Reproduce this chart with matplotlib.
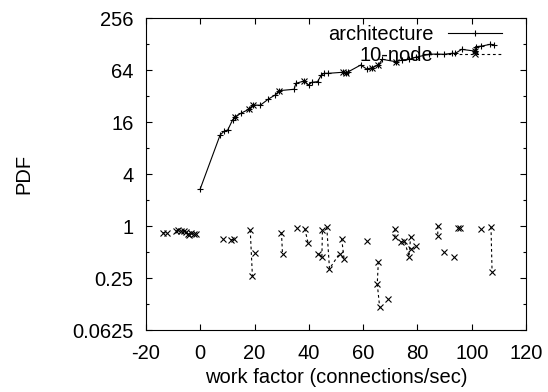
import numpy as np
import matplotlib
matplotlib.use("Agg")
import matplotlib.pyplot as plt
from matplotlib.ticker import FixedLocator, FixedFormatter

plt.rcParams['font.family'] = ['Liberation Sans', 'DejaVu Sans']
plt.rcParams['axes.unicode_minus'] = False

# ---- data ----
arch_x = [0.0, 7.3, 8.9, 10.1, 11.9, 12.9, 15.0, 17.8, 19.3, 22.1, 25.1, 27.6, 29.1,
          34.6, 35.2, 38.3, 39.9, 41.1, 43.2, 44.6, 45.6, 47.2, 52.4, 53.6, 54.6,
          59.1, 61.3, 63.2, 65.6, 67.1, 72.0, 74.4, 76.9, 79.3, 84.2, 87.3, 89.7,
          92.8, 94.0, 96.3, 101.1, 101.4, 103.6, 106.9, 108.1]
arch_y = [2.7, 11.3, 12.6, 12.9, 16.9, 18.4, 20.2, 22.4, 25.2, 25.0, 29.5, 32.9, 36.9,
          38.3, 44.9, 47.7, 42.9, 46.1, 46.9, 56.0, 58.6, 58.6, 60.2, 59.7, 61.2,
          73.1, 65.7, 68.0, 73.1, 85.1, 79.8, 83.6, 85.1, 89.8, 97.3, 98.0, 97.3,
          99.9, 99.9, 111.0, 106.0, 119.0, 121.0, 127.0, 125.0]

# 10-node: groups of consecutive points (NaN separates groups that are not joined)
node_x = [-13.8, -12.2, np.nan,
          -8.9, -8.1, -7.1, -6.1, -5.2, -4.6, -4.0, -3.4, -2.4, -1.5, np.nan,
          8.2, np.nan, 11.3, 12.5, np.nan,
          18.4, 19.2, np.nan, 20.3, np.nan,
          29.9, 30.3, np.nan,
          35.8, np.nan, 38.5, 39.7, np.nan,
          43.2, 44.8, 45.0, np.nan, 46.6, 47.6, 51.3, np.nan, 52.1, 53.0, np.nan,
          61.3, np.nan,
          65.6, 65.2, 66.1, np.nan, 69.3, np.nan,
          71.7, 71.7, np.nan, 73.8, 75.2, 76.9, 77.5, np.nan, 77.8, 79.4, np.nan,
          87.5, 87.5, np.nan, 89.7, np.nan, 93.4, np.nan, 95.0, 95.5, np.nan,
          103.5, np.nan, 107.1, 107.5, np.nan,
          12.9, np.nan, 17.8, np.nan, 19.3, np.nan, 29.1, np.nan, 38.3, np.nan,
          52.4, np.nan, 53.6, np.nan, 63.2, np.nan, 65.6, np.nan, 72.0, np.nan,
          101.1]
node_y = [0.836, 0.836, np.nan,
          0.875, 0.892, 0.882, 0.868, 0.852, 0.808, 0.787, 0.823, 0.80, 0.808, np.nan,
          0.70, np.nan, 0.69, 0.70, np.nan,
          0.90, 0.264, np.nan, 0.487, np.nan,
          0.84, 0.47, np.nan,
          0.94, np.nan, 0.93, 0.64, np.nan,
          0.48, 0.44, 0.90, np.nan, 0.97, 0.32, 0.48, np.nan, 0.71, 0.41, np.nan,
          0.676, np.nan,
          0.386, 0.213, 0.114, np.nan, 0.142, np.nan,
          0.923, 0.736, np.nan, 0.648, 0.676, 0.441, 0.752, np.nan, 0.537, 0.587, np.nan,
          1.0, 0.772, np.nan, 0.497, np.nan, 0.441, np.nan, 0.948, 0.948, np.nan,
          0.923, np.nan, 0.98, 0.296, np.nan,
          18.4, np.nan, 22.4, np.nan, 25.2, np.nan, 36.9, np.nan, 47.7, np.nan,
          60.2, np.nan, 59.7, np.nan, 68.0, np.nan, 73.1, np.nan, 79.8, np.nan,
          106.0]

xticks = [-20, 0, 20, 40, 60, 80, 100, 120]
yticks = [0.0625, 0.25, 1, 4, 16, 64, 256]
ytick_labels = ["0.0625", "0.25", "1", "4", "16", "64", "256"]
yminor = [0.125, 0.5, 2, 8, 32, 128]

# ---- figure ----
fig = plt.figure(figsize=(5.48, 3.92), dpi=100)
ax = fig.add_axes([146/548, 1-330/392, (526-146)/548, (330-18)/392])

ax.plot(arch_x, arch_y, color='black', lw=0.8, marker='+', ms=5, mew=0.8,
        label='architecture')
ax.plot(node_x, node_y, color='black', lw=0.8, ls=(0, (2.5, 2.5)), marker='x',
        ms=4.5, mew=0.8, label='10-node')

ax.set_yscale('log', base=2)
ax.set_xlim(-20, 120)
ax.set_ylim(0.0625, 256)
ax.xaxis.set_major_locator(FixedLocator(xticks))
ax.yaxis.set_major_locator(FixedLocator(yticks))
ax.yaxis.set_major_formatter(FixedFormatter(ytick_labels))
ax.yaxis.set_minor_locator(FixedLocator(yminor))
ax.yaxis.set_minor_formatter(FixedFormatter([]))

ax.tick_params(which='both', direction='in', top=True, right=True, width=0.8,
               labelsize=14.5)
ax.tick_params(which='major', length=4.5)
ax.tick_params(which='minor', length=2.5)
ax.tick_params(axis='y', pad=9)
ax.tick_params(axis='x', pad=10)
for s in ax.spines.values():
    s.set_linewidth(0.8)

ax.set_xlabel('work factor (connections/sec)', fontsize=14.5, labelpad=4)
ax.set_ylabel('PDF', fontsize=14.5, labelpad=28)

leg = ax.legend(loc='upper right', bbox_to_anchor=(0.9368, 0.9776),
                frameon=False, markerfirst=False, numpoints=1,
                fontsize=14.5, handlelength=2.7, handletextpad=0.7,
                labelspacing=0.1, borderaxespad=0.0, borderpad=0.0)

fig.savefig('out.png', dpi=100)
